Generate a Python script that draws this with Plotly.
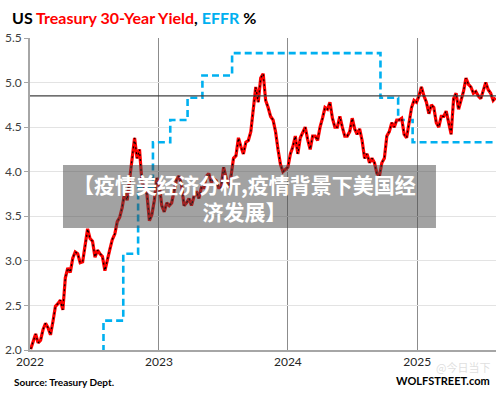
import pandas as pd
import plotly.graph_objects as go

# ---- data: US Treasury 30-year yield, weekly (Mondays) ----
start_date = "2022-01-03"
yield_2022 = [2.01, 2.11, 2.18, 2.08, 2.11, 2.23, 2.30, 2.25, 2.17, 2.32, 2.49, 2.52, 2.56,
              2.45, 2.81, 2.92, 2.87, 3.03, 3.10, 3.08, 2.98, 2.99, 3.15, 3.36, 3.25, 3.22,
              3.04, 3.12, 3.08, 3.05, 2.89, 3.03, 3.13, 3.24, 3.30, 3.44, 3.49, 3.60, 3.77,
              3.68, 3.92, 4.10, 4.38, 4.15, 4.25, 3.88, 3.83, 3.75, 3.45, 3.52, 3.68, 3.93]
yield_2023 = [3.85, 3.62, 3.55, 3.65, 3.62, 3.65, 3.80, 3.92, 3.95, 3.85, 3.62, 3.65, 3.70,
              3.62, 3.72, 3.78, 3.70, 3.82, 3.82, 3.95, 3.98, 3.88, 3.92, 3.90, 3.82, 3.82,
              4.05, 3.95, 3.82, 3.95, 4.15, 4.18, 4.38, 4.28, 4.20, 4.33, 4.35, 4.45, 4.70,
              4.95, 4.78, 5.05, 5.10, 4.80, 4.72, 4.62, 4.58, 4.45, 4.25, 4.08, 4.00, 4.03]
yield_2024 = [4.05, 4.20, 4.28, 4.40, 4.20, 4.38, 4.45, 4.50, 4.36, 4.25, 4.40, 4.40, 4.35,
              4.50, 4.60, 4.72, 4.70, 4.78, 4.60, 4.50, 4.50, 4.62, 4.50, 4.40, 4.40, 4.45,
              4.60, 4.48, 4.42, 4.48, 4.35, 4.15, 4.20, 4.10, 4.15, 4.10, 3.98, 3.95, 4.10,
              4.15, 4.40, 4.45, 4.55, 4.50, 4.58, 4.58, 4.60, 4.42, 4.38, 4.55, 4.72, 4.80, 4.78]
yield_2025 = [4.85, 4.95, 4.85, 4.78, 4.65, 4.75, 4.72, 4.55, 4.50, 4.62, 4.62, 4.68, 4.55,
              4.42, 4.82, 4.88, 4.70, 4.80, 4.90, 5.05, 4.98, 4.95, 4.88, 4.90, 4.85, 4.82,
              4.90, 5.00, 4.92, 4.88, 4.80, 4.83]

# ---- data: Effective Federal Funds Rate (step changes) ----
effr_dates = ["2022-01-03", "2022-03-17", "2022-05-05", "2022-06-16", "2022-07-28",
              "2022-09-22", "2022-11-03", "2022-12-15", "2023-02-02", "2023-03-23",
              "2023-05-04", "2023-07-27", "2024-09-19", "2024-11-08", "2024-12-19",
              "2025-08-11"]
effr_values = [0.08, 0.33, 0.83, 1.58, 2.33, 3.08, 3.83, 4.33, 4.58, 4.83,
               5.08, 5.33, 4.83, 4.58, 4.33, 4.33]

ref_level = 4.85
y_ticks = [2.0, 2.5, 3.0, 3.5, 4.0, 4.5, 5.0, 5.5]
x_ticks = ["2022-01-01", "2023-01-01", "2024-01-01", "2025-01-01"]
x_tick_labels = ["2022", "2023", "2024", "2025"]

yields = yield_2022 + yield_2023 + yield_2024 + yield_2025
dates = pd.date_range(start_date, periods=len(yields), freq="W-MON")

RED = "#ff0000"
BLUE = "#00b0f0"
FONT = "Lato"

fig = go.Figure()
fig.add_trace(go.Scatter(x=effr_dates, y=effr_values, mode="lines", line_shape="hv",
                         line=dict(color=BLUE, width=2.6, dash="7px,4px"),
                         hoverinfo="skip", showlegend=False))
fig.add_trace(go.Scatter(x=dates, y=yields, mode="lines",
                         line=dict(color=RED, width=3.2), showlegend=False))
fig.add_trace(go.Scatter(x=dates, y=yields, mode="lines",
                         line=dict(color="#000000", width=1.2, dash="2px,3px"),
                         hoverinfo="skip", showlegend=False))

fig.add_shape(type="line", xref="paper", x0=0, x1=1, yref="y", y0=ref_level, y1=ref_level,
              line=dict(color="#404040", width=1.3), layer="above")

# overlay banner
fig.add_shape(type="rect", xref="paper", yref="paper", x0=0.0708, x1=0.8712,
              y0=0.391, y1=0.593, fillcolor="rgba(70,70,70,0.5)", line=dict(width=0),
              layer="above")
fig.add_annotation(xref="paper", yref="paper", x=0.460, y=0.490, showarrow=False,
                   text="<b>【疫情美经济分析,疫情背景下美国经<br>济发展】</b>",
                   font=dict(family="Noto Sans CJK SC", size=21, color="white"),
                   align="center", xanchor="center", yanchor="middle")

# title
fig.add_annotation(xref="paper", yref="paper", x=-0.0429, y=1.067, showarrow=False,
                   xanchor="left", yanchor="middle",
                   text=("<b>US <span style='color:#ff0000'>Treasury 30-Year Yield</span>, "
                         "<span style='color:#00b0f0'>EFFR</span> %</b>"),
                   font=dict(family=FONT, size=16, color="#000000"))
fig.add_annotation(xref="paper", yref="paper", x=-0.0386, y=-0.1026, showarrow=False,
                   xanchor="left", yanchor="middle", text="<b>Source: Treasury Dept.</b>",
                   font=dict(family=FONT, size=10, color="#000000"))
fig.add_annotation(xref="paper", yref="paper", x=0.9914, y=-0.098, showarrow=False,
                   xanchor="right", yanchor="middle", text="<b>WOLFSTREET.com</b>",
                   font=dict(family=FONT, size=11, color="#000000"))
fig.add_annotation(xref="paper", yref="paper", x=0.9914, y=-0.055, showarrow=False,
                   xanchor="right", yanchor="middle", text="@今日当下",
                   font=dict(family="Noto Sans CJK SC", size=11, color="rgba(190,190,190,0.5)"))

fig.update_layout(
    width=500, height=393,
    margin=dict(l=30, r=4, t=38, b=43),
    paper_bgcolor="white", plot_bgcolor="white",
    font=dict(family=FONT, size=12, color="#404040"),
    showlegend=False,
)
fig.update_xaxes(type="date", range=["2022-01-01", "2025-08-12"],
                 tickmode="array", tickvals=x_ticks, ticktext=x_tick_labels,
                 showgrid=True, gridcolor="#8c8c8c", gridwidth=1,
                 showline=True, linecolor="#a6a6a6", linewidth=1.5,
                 ticks="", tickfont=dict(size=12, color="#262626"), zeroline=False)
fig.update_yaxes(range=[2.0, 5.5], tickmode="array", tickvals=y_ticks,
                 ticktext=[f"{v:.1f}" for v in y_ticks],
                 showgrid=True, gridcolor="#e3e3e3", gridwidth=1,
                 showline=True, linecolor="#a6a6a6", linewidth=1.5,
                 ticks="outside", ticklen=4, tickcolor="#a6a6a6",
                 tickfont=dict(size=12, color="#404040"), zeroline=False)

fig.write_html("out.html", config={"displayModeBar": False},
               post_script="document.body.style.margin='0';")
